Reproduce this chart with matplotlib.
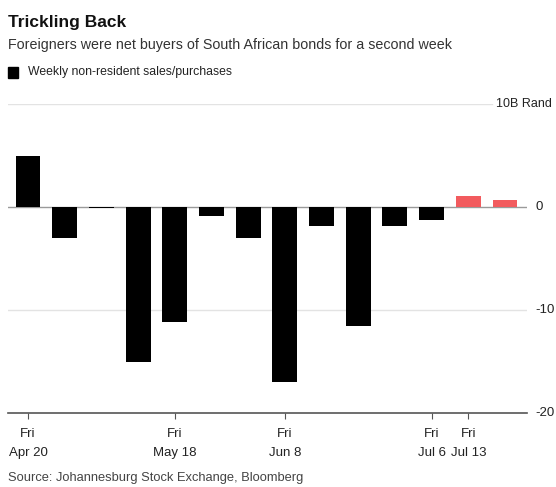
import matplotlib.pyplot as plt
import matplotlib.transforms as mtransforms

plt.rcParams['font.family'] = ['Liberation Sans', 'DejaVu Sans']

weeks = ["Apr 20", "Apr 27", "May 4", "May 11", "May 18", "May 25", "Jun 1",
         "Jun 8", "Jun 15", "Jun 22", "Jun 29", "Jul 6", "Jul 13", "Jul 20"]
flows = [5.0, -3.0, -0.1, -15.0, -11.2, -0.9, -3.0,
         -17.0, -1.8, -11.6, -1.8, -1.3, 1.1, 0.65]
tick_weeks = ["Apr 20", "May 18", "Jun 8", "Jul 6", "Jul 13"]
y_ticks = [10, 0, -10, -20]
y_labels = ["10B Rand", "0", "-10", "-20"]

W, H = 556, 487
fig = plt.figure(figsize=(W / 100, H / 100), dpi=100)

# axes placed in pixel terms: x 8..527, y(-20)=413, y(10)=104
ax = fig.add_axes([8 / W, (H - 413) / H, (527 - 8) / W, (413 - 104) / H])

x = list(range(len(weeks)))
colors = ["#000000" if i < 12 else "#f25b5e" for i in x]
ax.bar(x, flows, width=0.68, color=colors, zorder=3)

ax.set_ylim(-20, 10)
ax.set_xlim(-0.545, 13.6)

# gridlines
ax.axhline(10, xmin=0, xmax=(492 - 8) / (527 - 8), color="#e3e3e3", lw=1, zorder=1)
ax.axhline(-10, color="#e3e3e3", lw=1, zorder=1)
ax.axhline(0, color="#9a9a9a", lw=1, zorder=2)

for s in ["top", "right", "left"]:
    ax.spines[s].set_visible(False)
ax.spines["bottom"].set_color("#555555")
ax.spines["bottom"].set_linewidth(1.2)

ax.set_yticks([])
ticks = [weeks.index(w) for w in tick_weeks]
ax.set_xticks(ticks)
ax.set_xticklabels(["Fri\n" + w for w in tick_weeks], fontsize=9.5,
                   color="#222222", linespacing=1.75)
ax.tick_params(axis="x", length=4, color="#555555", pad=7)

trans = mtransforms.blended_transform_factory(fig.transFigure, ax.transData)
for v, lab in zip(y_ticks, y_labels):
    if v == 10:
        ax.text(552 / W, v, lab, transform=trans, ha="right", va="center",
                fontsize=9, color="#222222")
    else:
        ax.text(535 / W, v, lab, transform=trans, ha="left", va="center",
                fontsize=9.5, color="#222222")

# header
fig.text(8 / W, 1 - 23 / H, "Trickling Back", fontsize=12.5, fontweight="bold",
         va="center", color="#111111")
fig.text(8 / W, 1 - 45 / H, "Foreigners were net buyers of South African bonds for a second week",
         fontsize=10.3, va="center", color="#333333")
fig.patches.append(plt.Rectangle((8 / W, 1 - 78 / H), 10 / W, 11 / H,
                                 transform=fig.transFigure, color="black"))
fig.text(28 / W, 1 - 72 / H, "Weekly non-resident sales/purchases", fontsize=8.8,
         va="center", color="#222222")
fig.text(8 / W, 1 - 478 / H, "Source: Johannesburg Stock Exchange, Bloomberg",
         fontsize=9.3, va="center", color="#444444")

fig.savefig("out.png", dpi=100)
